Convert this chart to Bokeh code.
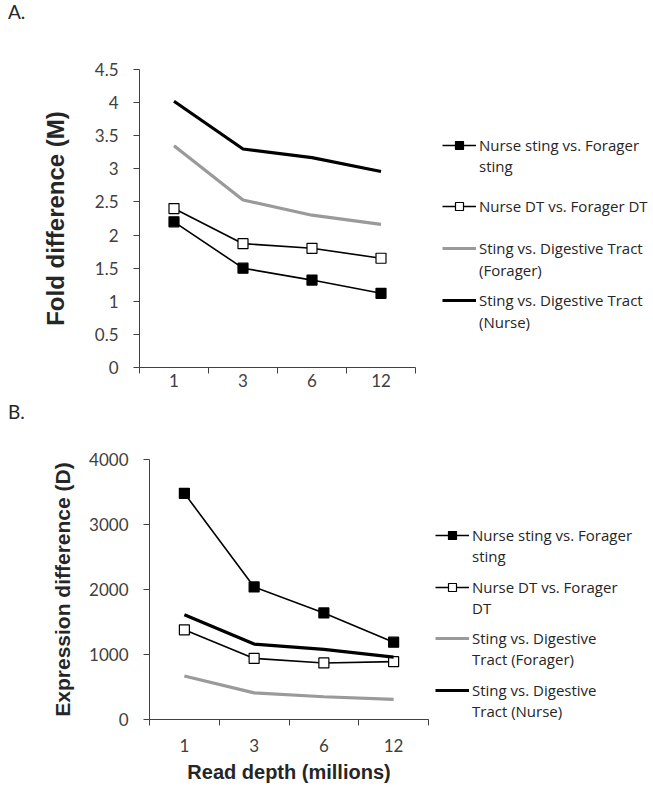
from bokeh.plotting import figure
from bokeh.models import (Legend, LegendItem, FixedTicker, Div,
                          CustomJSTickFormatter, Range1d)
from bokeh.layouts import column, row
from bokeh.embed import file_html
from bokeh.resources import INLINE

# ---------------- data ----------------
depths = ["1", "3", "6", "12"]

a_nurse_sting = [2.2, 1.5, 1.32, 1.12]
a_nurse_dt = [2.4, 1.87, 1.8, 1.65]
a_sdt_forager = [3.35, 2.53, 2.3, 2.16]
a_sdt_nurse = [4.02, 3.3, 3.17, 2.96]
a_ticks = [0, 0.5, 1, 1.5, 2, 2.5, 3, 3.5, 4, 4.5]

b_nurse_sting = [3480, 2040, 1640, 1190]
b_nurse_dt = [1380, 940, 870, 890]
b_sdt_forager = [670, 410, 350, 310]
b_sdt_nurse = [1610, 1160, 1080, 960]
b_ticks = [0, 1000, 2000, 3000, 4000]

a_labels = [["Nurse sting vs. Forager", "sting"], ["Nurse DT vs. Forager DT"],
            ["Sting vs. Digestive Tract", "(Forager)"],
            ["Sting vs. Digestive Tract", "(Nurse)"]]
b_labels = [["Nurse sting vs. Forager", "sting"], ["Nurse DT vs. Forager", "DT"],
            ["Sting vs. Digestive", "Tract (Forager)"],
            ["Sting vs. Digestive", "Tract (Nurse)"]]

xs = [i + 0.5 for i in range(len(depths))]
NAN = float("nan")
TICK_FONT = "Lato"
LEG_FONT = "Open Sans"
TITLE_FONT = "Liberation Sans"
AX_COLOR = "#404040"
LBL_COLOR = "#404040"
TXT_COLOR = "#262626"

STYLES = [
    dict(kind="line+sq", line_color="black", line_width=1.6, fill="black"),
    dict(kind="line+sq", line_color="black", line_width=1.6, fill="white"),
    dict(kind="line", line_color="#9a9a9a", line_width=3.2),
    dict(kind="line", line_color="black", line_width=3.2),
]


def draw_series(p, xvals, ys, st, msize=10):
    rs = [p.line(xvals, ys, line_color=st["line_color"], line_width=st["line_width"])]
    if st["kind"] == "line+sq":
        rs.append(p.scatter(xvals, ys, marker="square", size=msize,
                            fill_color=st["fill"], line_color="black",
                            line_width=1.2))
    return rs


def make_panel(fw, fh, left, top, bottom, yend, yticks, series, ylabel, xlabel,
               x_standoff, y_title_standoff, y_title_size):
    p = figure(frame_width=fw, frame_height=fh,
               min_border_left=left, min_border_top=top, min_border_right=5,
               min_border_bottom=bottom,
               x_range=Range1d(0, len(depths)), y_range=Range1d(0, yend),
               output_backend="svg", toolbar_location=None)
    p.xgrid.visible = False
    p.ygrid.visible = False
    p.outline_line_color = None

    xa = p.xaxis[0]
    xa.ticker = FixedTicker(ticks=xs, minor_ticks=list(range(len(depths) + 1)))
    xa.major_label_overrides = {x: d for x, d in zip(xs, depths)}
    xa.major_tick_line_color = None
    xa.major_tick_out = 0
    xa.major_tick_in = 0
    xa.minor_tick_out = 6
    xa.minor_tick_in = 0
    xa.minor_tick_line_color = AX_COLOR
    xa.axis_line_color = AX_COLOR
    xa.major_label_text_font = TICK_FONT
    xa.major_label_text_font_size = "17px"
    xa.major_label_text_color = LBL_COLOR
    xa.major_label_standoff = x_standoff
    if xlabel:
        xa.axis_label = xlabel
        xa.axis_label_text_font = TITLE_FONT
        xa.axis_label_text_font_style = "bold"
        xa.axis_label_text_font_size = "20px"
        xa.axis_label_text_color = TXT_COLOR
        xa.axis_label_standoff = 6

    ya = p.yaxis[0]
    ya.ticker = FixedTicker(ticks=yticks)
    ya.formatter = CustomJSTickFormatter(code="return String(tick);")
    ya.minor_tick_line_color = None
    ya.major_tick_out = 6
    ya.major_tick_in = 0
    ya.major_tick_line_color = AX_COLOR
    ya.axis_line_color = AX_COLOR
    ya.major_label_text_font = TICK_FONT
    ya.major_label_text_font_size = "17px"
    ya.major_label_text_color = LBL_COLOR
    ya.major_label_standoff = 15
    ya.axis_label = ylabel
    ya.axis_label_text_font = TITLE_FONT
    ya.axis_label_text_font_style = "bold"
    ya.axis_label_text_font_size = y_title_size
    ya.axis_label_text_color = TXT_COLOR
    ya.axis_label_standoff = y_title_standoff

    for ys, st in zip(series, STYLES):
        draw_series(p, xs, ys, st)
    return p


def add_legend(q, label, renderers, loc):
    leg = Legend(items=[LegendItem(label=label, renderers=renderers)], location=loc,
                 glyph_width=34, glyph_height=20, label_height=20,
                 label_text_font=LEG_FONT, label_text_font_size="15px",
                 label_text_color=TXT_COLOR, label_standoff=3, padding=0,
                 margin=0, spacing=0, border_line_color=None,
                 background_fill_alpha=0)
    q.add_layout(leg, "center")


def make_legend_fig(width, height, labels, glyph_x, bottom_page, first_lines,
                    line_gap):
    q = figure(width=width, height=height, min_border=0, title=None,
               x_range=Range1d(0, 1), y_range=Range1d(0, 1),
               x_axis_type=None, y_axis_type=None, frame_align=False,
               output_backend="svg", toolbar_location=None)
    q.xgrid.visible = False
    q.ygrid.visible = False
    q.outline_line_color = None
    blank = q.line([NAN], [NAN], line_alpha=0)
    for lines, st, c in zip(labels, STYLES, first_lines):
        rs = draw_series(q, [NAN], [NAN], st, msize=8)
        add_legend(q, lines[0], rs, (glyph_x, bottom_page - 10 - c))
        for k, extra in enumerate(lines[1:], start=1):
            add_legend(q, extra, [blank],
                       (glyph_x, round(bottom_page - 10 - (c + k * line_gap))))
    return q


def letter_div(text, height, line_h):
    return Div(text=text, width=60, height=height, margin=(0, 0, 0, 8),
               styles={"font-family": TICK_FONT, "font-size": "19px",
                       "color": TXT_COLOR, "line-height": f"{line_h}px"})


# Panel A  (page rows 0..34 letter, 34..400 chart)
pa = make_panel(276, 298, 139, 35, 33, 4.5, a_ticks,
                (a_nurse_sting, a_nurse_dt, a_sdt_forager, a_sdt_nurse),
                "Fold difference (M)", None, 0, 23, "24px")
la = make_legend_fig(233, 366, a_labels, 22, 400, [145, 206, 248, 300], 21.5)

# Panel B  (page rows 400..432 letter, 432..783 chart)
pb = make_panel(279, 260, 149, 27, 64, 4000, b_ticks,
                (b_nurse_sting, b_nurse_dt, b_sdt_forager, b_sdt_nurse),
                "Expression difference (D)", "Read depth (millions)", 13, 12, "21px")
lb = make_legend_fig(220, 351, b_labels, 2, 783, [535, 587, 638, 690], 21)

layout = column(letter_div("A.", 34, 24), row(pa, la),
                letter_div("B.", 32, 24), row(pb, lb))
open("out.html", "w").write(file_html(layout, INLINE))
